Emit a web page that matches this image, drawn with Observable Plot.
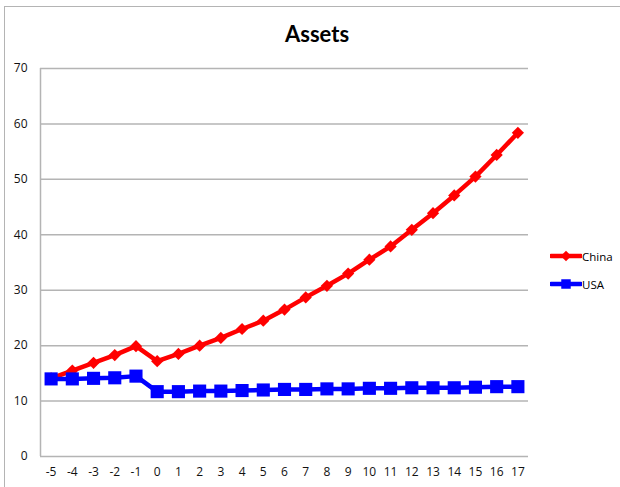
<!DOCTYPE html>
<html>
<head>
<meta charset="utf-8">
<script src="https://cdn.jsdelivr.net/npm/d3@7"></script>
<script src="https://cdn.jsdelivr.net/npm/@observablehq/plot@0.6"></script>
<style>
  html, body { margin: 0; padding: 0; background: #fff; }
  #wrap { position: relative; width: 620px; height: 487px; overflow: hidden; font-family: "Open Sans", "DejaVu Sans", sans-serif; }
  #border { position: absolute; left: 4px; top: 6px; width: 640px; height: 500px; border-left: 1.5px solid #b4b4b4; border-top: 1.5px solid #b4b4b4; }
  #title { position: absolute; left: 0; width: 634px; top: 20px; text-align: center; font-family: Lato, "Open Sans", sans-serif; font-weight: 700; font-size: 22px; color: #000; }
  #chart { position: absolute; left: 0; top: 0; }
  .legend { position: absolute; left: 550px; font-size: 11.5px; color: #000; display: flex; align-items: center; }
  .legend svg { display: block; }
</style>
</head>
<body>
<div id="wrap">
  <div id="border"></div>
  <div id="chart"></div>
  <div id="title">Assets</div>
  <div class="legend" id="leg-china" style="top:248px"></div>
  <div class="legend" id="leg-usa" style="top:276px"></div>
</div>
<script>
const years = [-5,-4,-3,-2,-1,0,1,2,3,4,5,6,7,8,9,10,11,12,13,14,15,16,17];
const china = [14.1,15.5,16.9,18.3,19.9,17.2,18.5,20.0,21.4,23.0,24.5,26.5,28.7,30.8,33.0,35.5,37.9,40.9,43.9,47.1,50.5,54.4,58.4];
const usa   = [14.0,14.0,14.1,14.2,14.5,11.7,11.7,11.8,11.8,11.9,12.0,12.1,12.1,12.2,12.2,12.3,12.3,12.4,12.4,12.4,12.5,12.6,12.6];
const yTicks = [0,10,20,30,40,50,60,70];
const seriesNames = ["China","USA"];
const seriesColors = ["#ff0000","#0000ff"];

const rows = [];
years.forEach((yr, i) => {
  rows.push({year: yr, value: china[i], series: seriesNames[0]});
  rows.push({year: yr, value: usa[i], series: seriesNames[1]});
});
const chinaRows = rows.filter(d => d.series === "China");
const usaRows = rows.filter(d => d.series === "USA");

const plot = Plot.plot({
  width: 620,
  height: 487,
  marginLeft: 40,
  marginRight: 92,
  marginTop: 68,
  marginBottom: 31,
  style: {background: "transparent", fontSize: "12px", fontFamily: "'Open Sans', 'DejaVu Sans', sans-serif", color: "#111", overflow: "visible"},
  x: {domain: [years[0] - 0.5, years[years.length - 1] + 0.5], ticks: years, tickFormat: d => String(d), tickSize: 0, tickPadding: 11, label: null},
  y: {domain: [0, 70], ticks: yTicks, tickSize: 0, tickPadding: 13, label: null},
  marks: [
    Plot.ruleY(yTicks, {stroke: "#b4b4b4", strokeWidth: 1.5}),
    Plot.ruleX([years[0] - 0.5], {stroke: "#b4b4b4", strokeWidth: 1.5}),
    Plot.line(chinaRows, {x: "year", y: "value", stroke: seriesColors[0], strokeWidth: 4.5}),
    Plot.dot(chinaRows, {x: "year", y: "value", symbol: "diamond2", fill: seriesColors[0], stroke: "none", r: 5.5}),
    Plot.line(usaRows, {x: "year", y: "value", stroke: seriesColors[1], strokeWidth: 4.5}),
    Plot.dot(usaRows, {x: "year", y: "value", symbol: "square", fill: seriesColors[1], stroke: "none", r: 7.4})
  ]
});
document.getElementById("chart").appendChild(plot);

function legendItem(id, color, symbolPath, name) {
  const el = document.getElementById(id);
  const svg = d3.create("svg").attr("width", 32).attr("height", 16);
  svg.append("line").attr("x1", 1).attr("x2", 31).attr("y1", 8).attr("y2", 8)
    .attr("stroke", color).attr("stroke-width", 4.5).attr("stroke-linecap", "round");
  svg.append("path").attr("d", symbolPath).attr("transform", "translate(16,8)").attr("fill", color);
  el.appendChild(svg.node());
  const t = document.createElement("span");
  t.textContent = name;
  el.appendChild(t);
}
legendItem("leg-china", seriesColors[0], d3.symbol(d3.symbolDiamond2, 70)(), seriesNames[0]);
legendItem("leg-usa", seriesColors[1], d3.symbol(d3.symbolSquare, 90)(), seriesNames[1]);
</script>
</body>
</html>
